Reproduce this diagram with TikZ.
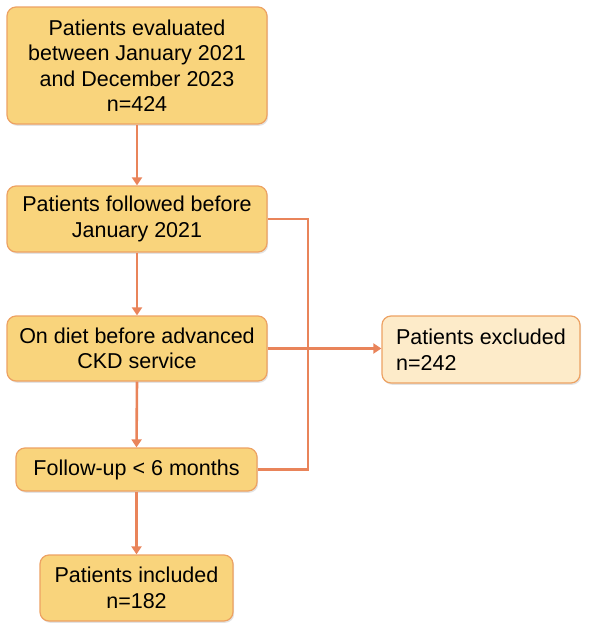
\documentclass[tikz,border=0pt]{standalone}
\usepackage{fontspec}
\setmainfont{Liberation Sans}
\usetikzlibrary{shadows,arrows.meta}
\definecolor{boxfill}{HTML}{F9D47C}
\definecolor{boxedge}{HTML}{EDA263}
\definecolor{exfill}{HTML}{FDEBC9}
\definecolor{linecol}{HTML}{E9845A}
\begin{document}
\begin{tikzpicture}[x=1pt,y=-1pt,
  stepbox/.style={draw=boxedge, line width=1.2pt, fill=boxfill, rounded corners=9pt,
    align=center, font=\fontsize{21.5}{25.5}\selectfont, inner sep=0pt,
    drop shadow={opacity=0.22, shadow xshift=1.2pt, shadow yshift=-1.8pt}},
  exbox/.style={stepbox, fill=exfill, align=left},
  conn/.style={draw=linecol, line width=2.6pt},
  arr/.style={conn, -{Triangle[length=8pt,width=10pt]}}]
\useasboundingbox (0,0) rectangle (590,633);
\node[stepbox, minimum width=260pt, minimum height=117pt] (a) at (137,65.5)
  {Patients evaluated\\between January 2021\\and December 2023\\n=424};
\node[stepbox, minimum width=260pt, minimum height=66pt] (b) at (137,219)
  {Patients followed before\\January 2021};
\node[stepbox, minimum width=260pt, minimum height=65pt] (c) at (137,348.5)
  {On diet before advanced\\CKD service};
\node[stepbox, minimum width=241pt, minimum height=43pt] (d) at (136.5,469.5)
  {Follow-up < 6 months};
\node[exbox, minimum width=198pt, minimum height=67pt] (x) at (481,349.5)
  {Patients excluded\\n=242};
\node[stepbox, minimum width=193pt, minimum height=66pt] (e) at (136.5,588)
  {Patients included\\n=182};
\coordinate (tr) at (308,219);
\coordinate (br) at (308,469.5);
\draw[arr] (a.south) -- (b.north);
\draw[arr] (b.south) -- (c.north);
\draw[arr] (c.south) -- (d.north);
\draw[arr] (d.south) -- (e.north);
\draw[conn] (b.east) -- (tr) -- (br) -- (d.east);
\draw[arr] (c.east) -- (c.east -| x.west);
\end{tikzpicture}
\end{document}
